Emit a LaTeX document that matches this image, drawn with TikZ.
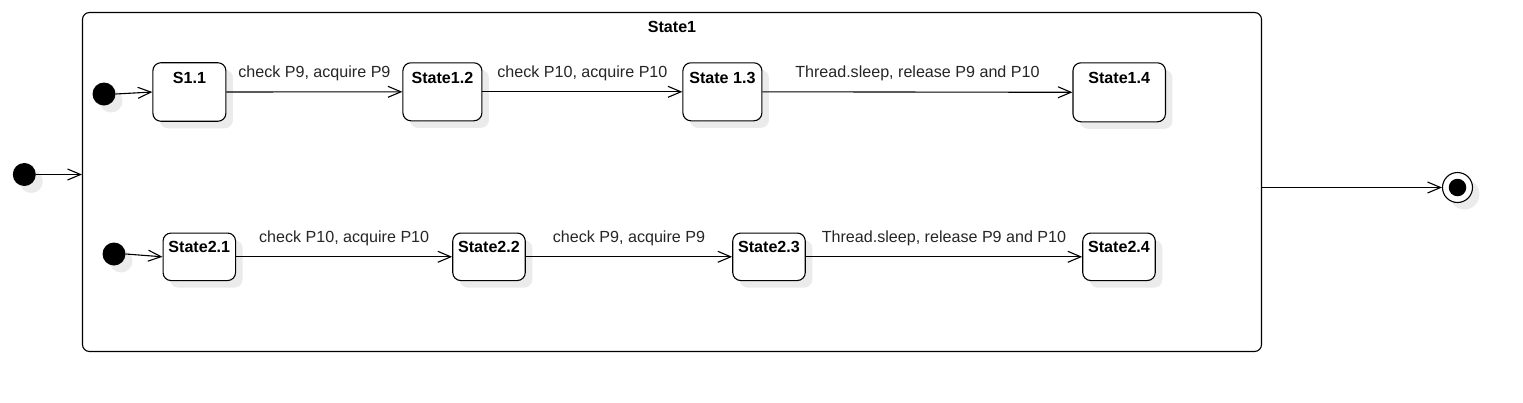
\documentclass[tikz,border=0pt]{standalone}
\usepackage{fontspec}
\setmainfont{Liberation Sans}
\usetikzlibrary{arrows.meta,shadows,calc}
\tikzset{
  shad/.style={drop shadow={shadow xshift=7pt,shadow yshift=-7pt,fill=black!8,opacity=1}},
  statebox/.style={draw=black,line width=1.1pt,rounded corners=8pt,fill=white,shad,inner sep=0pt},
  slabel/.style={font=\fontsize{16.1}{19}\selectfont\bfseries,anchor=base,inner sep=0pt},
  elabel/.style={font=\fontsize{16.1}{19}\selectfont,anchor=base,inner sep=0pt,text=black!85},
  initst/.style={circle,fill=black,inner sep=0pt,minimum size=23pt,shad},
  trans/.style={line width=1.1pt,-{Straight Barb[length=13pt,width=11pt,line width=1.1pt]}},
}
\begin{document}
\begin{tikzpicture}[x=1pt,y=-1pt]
\useasboundingbox (0,0) rectangle (1523,402);
% composite state
\node[draw=black,line width=1.1pt,rounded corners=7pt,fill=white,minimum width=1179pt,minimum height=339pt,inner sep=0pt] (box) at (672,182) {};
\node[slabel] (title) at (672,32.7) {State1};
% region 1
\node[statebox,minimum width=73pt,minimum height=58.5pt] (s11) at (189.4,92) {};
\node[statebox,minimum width=79pt,minimum height=58pt] (s12) at (442.4,91.8) {};
\node[statebox,minimum width=79pt,minimum height=58pt] (s13) at (722.4,91.8) {};
\node[statebox,minimum width=92.5pt,minimum height=59pt] (s14) at (1119.2,92.3) {};
\node[slabel] (l11) at ($(s11.north)+(0,21)$) {S1.1};
\node[slabel] (l12) at ($(s12.north)+(0,21)$) {State1.2};
\node[slabel] (l13) at ($(s13.north)+(0,21)$) {State 1.3};
\node[slabel] (l14) at ($(s14.north)+(0,21)$) {State1.4};
\node[initst] (i1) at (104,94) {};
% region 2
\node[statebox,minimum width=72.5pt,minimum height=47.5pt] (s21) at (199.3,256.8) {};
\node[statebox,minimum width=72.5pt,minimum height=47.5pt] (s22) at (489,256.8) {};
\node[statebox,minimum width=72.5pt,minimum height=47.5pt] (s23) at (769,256.8) {};
\node[statebox,minimum width=72.5pt,minimum height=47.5pt] (s24) at (1119,256.8) {};
\node[slabel] (l21) at ($(s21.north)+(0,20)$) {State2.1};
\node[slabel] (l22) at ($(s22.north)+(0,20)$) {State2.2};
\node[slabel] (l23) at ($(s23.north)+(0,20)$) {State2.3};
\node[slabel] (l24) at ($(s24.north)+(0,20)$) {State2.4};
\node[initst] (i2) at (114,254) {};
% outer initial and final
\node[initst] (i0) at (24.3,174.5) {};
\node[circle,draw=black,line width=1.1pt,fill=white,minimum size=30pt,inner sep=0pt,shad] (fin) at (1457.5,187.5) {};
\node[circle,fill=black,minimum size=17.5pt,inner sep=0pt] (finin) at (fin) {};
% transitions
\draw[trans] (i1.east) -- (s11.west);
\draw[trans] (s11.east) -- node[elabel,yshift=14.8pt] (t1) {check P9, acquire P9} (s12.west);
\draw[trans] (s12.east) -- node[elabel,yshift=14.8pt] (t2) {check P10, acquire P10} (s13.west);
\draw[trans] (s13.east) -- node[elabel,yshift=14.8pt] (t3) {Thread.sleep, release P9 and P10} (s14.west);
\draw[trans] (i2.east) -- (s21.west);
\draw[trans] (s21.east) -- node[elabel,yshift=14pt] (t4) {check P10, acquire P10} (s22.west);
\draw[trans] (s22.east) -- node[elabel,yshift=14pt] (t5) {check P9, acquire P9} (s23.west);
\draw[trans] (s23.east) -- node[elabel,yshift=14pt] (t6) {Thread.sleep, release P9 and P10} (s24.west);
\draw[trans] (i0.east) -- (i0.east -| box.west);
\draw[trans] (fin.west -| box.east) -- (fin.west);
\end{tikzpicture}
\end{document}
